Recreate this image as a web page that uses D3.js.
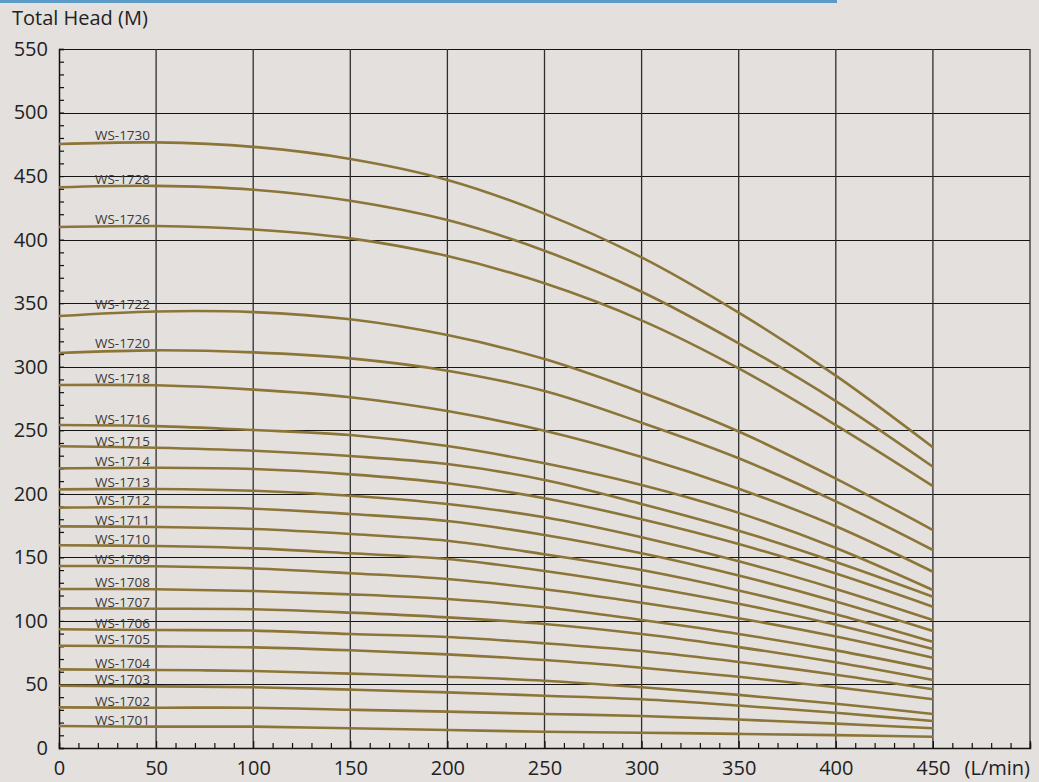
<!DOCTYPE html>
<html>
<head>
<meta charset="utf-8">
<script src="https://cdn.jsdelivr.net/npm/d3@7"></script>
<style>
  html, body { margin: 0; padding: 0; background: #e4e0dd; }
  svg { display: block; }
  text { font-family: "Open Sans", "DejaVu Sans", sans-serif; }
</style>
</head>
<body>
<svg id="chart" width="1039" height="782"></svg>
<script>
// ---- Data ----
const flows = [0, 50, 100, 150, 200, 250, 300, 350, 400, 450];   // L/min
const xTickLabels = [0, 50, 100, 150, 200, 250, 300, 350, 400, 450];
const yTickLabels = [0, 50, 100, 150, 200, 250, 300, 350, 400, 450, 500, 550];
const models = ["WS-1730","WS-1728","WS-1726","WS-1722","WS-1720","WS-1718","WS-1716","WS-1715",
                "WS-1714","WS-1713","WS-1712","WS-1711","WS-1710","WS-1709","WS-1708","WS-1707",
                "WS-1706","WS-1705","WS-1704","WS-1703","WS-1702","WS-1701"];
const ws1730 = [475.2, 476.5, 473.0, 463.5, 447.0, 420.5, 386.0, 342.5, 293.0, 236.6];
const ws1728 = [441.2, 442.3, 439.3, 430.6, 415.4, 391.3, 359.0, 318.4, 273.0, 221.3];
const ws1726 = [409.9, 410.7, 408.0, 401.0, 387.1, 365.6, 336.5, 298.7, 254.1, 206.1];
const ws1722 = [339.9, 343.5, 343.0, 337.3, 324.9, 306.0, 279.7, 249.0, 212.0, 171.5];
const ws1720 = [310.8, 312.9, 311.3, 306.6, 296.9, 280.9, 256.0, 228.0, 194.0, 155.8];
const ws1718 = [285.6, 285.4, 282.0, 276.0, 265.1, 249.6, 229.0, 204.0, 174.5, 138.7];
const ws1716 = [254.1, 253.3, 250.2, 246.3, 237.6, 224.0, 206.9, 185.0, 157.4, 124.3];
const ws1715 = [237.4, 236.3, 233.9, 229.7, 223.4, 210.9, 192.0, 171.0, 146.3, 119.0];
const ws1714 = [220.0, 220.5, 219.5, 215.3, 208.3, 196.5, 180.0, 160.5, 137.3, 111.2];
const ws1713 = [203.5, 203.8, 202.4, 198.5, 192.0, 181.5, 165.8, 147.0, 125.2, 100.7];
const ws1712 = [189.1, 189.6, 188.3, 184.1, 178.6, 167.6, 153.2, 135.7, 115.3, 92.1];
const ws1711 = [174.4, 173.9, 172.3, 168.4, 163.1, 152.4, 140.0, 124.0, 105.2, 83.6];
const ws1710 = [159.5, 158.9, 157.1, 153.2, 148.7, 139.3, 127.5, 113.5, 97.0, 77.9];
const ws1709 = [143.2, 143.0, 141.3, 137.5, 133.0, 124.9, 114.3, 102.1, 87.7, 71.0];
const ws1708 = [125.1, 124.9, 123.5, 120.9, 117.2, 110.7, 100.7, 89.7, 76.8, 61.9];
const ws1707 = [109.9, 109.6, 109.2, 106.5, 102.8, 97.6, 89.7, 79.4, 67.4, 53.5];
const ws1706 = [93.4, 92.8, 92.4, 89.7, 87.3, 82.4, 76.3, 67.7, 57.7, 46.2];
const ws1705 = [80.5, 80.0, 79.2, 76.9, 73.7, 69.2, 63.2, 56.1, 47.8, 38.3];
const ws1704 = [61.9, 61.4, 60.6, 58.5, 56.1, 52.9, 47.8, 41.8, 34.8, 26.8];
const ws1703 = [49.0, 48.5, 47.8, 45.9, 43.8, 41.1, 38.3, 33.4, 27.7, 21.2];
const ws1702 = [32.0, 31.7, 31.7, 30.1, 28.6, 26.8, 25.2, 22.4, 19.2, 15.5];
const ws1701 = [17.3, 16.8, 16.8, 15.5, 14.2, 12.8, 12.0, 11.1, 10.1, 8.9];
const heads = [ws1730, ws1728, ws1726, ws1722, ws1720, ws1718, ws1716, ws1715, ws1714, ws1713,
               ws1712, ws1711, ws1710, ws1709, ws1708, ws1707, ws1706, ws1705, ws1704, ws1703,
               ws1702, ws1701];
const yTitle = "Total Head (M)";
const xUnit = "(L/min)";

// ---- Chart ----
const svg = d3.select("#chart");
const W = 1039, H = 782;
svg.append("rect").attr("width", W).attr("height", H).attr("fill", "#e4e0dd");
svg.append("rect").attr("x", 0).attr("y", 0).attr("width", 837).attr("height", 3).attr("fill", "#5b9bc5");

const x = d3.scaleLinear().domain([0, 500]).range([59, 1030]);
const y = d3.scaleLinear().domain([0, 550]).range([748, 49]);

// grid
const g = svg.append("g");
g.selectAll("line.h").data(yTickLabels.filter(d => d > 0)).join("line")
  .attr("x1", x(0)).attr("x2", x(500))
  .attr("y1", d => Math.round(y(d)) + 0.5).attr("y2", d => Math.round(y(d)) + 0.5)
  .attr("stroke", "#141414").attr("stroke-width", 1);
g.selectAll("line.v").data(xTickLabels.filter(d => d > 0).concat([500])).join("line")
  .attr("x1", d => x(d)).attr("x2", d => x(d))
  .attr("y1", y(0)).attr("y2", y(550))
  .attr("stroke", "#2e2e2e").attr("stroke-width", 1.3);

// minor ticks (inside)
svg.append("g").attr("transform", `translate(${x(0)},0)`)
  .call(d3.axisRight(y).tickValues(d3.range(0, 551, 10)).tickSize(5).tickFormat(""))
  .call(s => s.select(".domain").attr("stroke", "#111").attr("stroke-width", 1.5))
  .call(s => s.selectAll(".tick line").attr("stroke", "#111").attr("stroke-width", 1.2));
svg.append("g").attr("transform", `translate(0,${y(0)})`)
  .call(d3.axisTop(x).tickValues(d3.range(0, 501, 10)).tickSize(5).tickFormat(""))
  .call(s => s.select(".domain").attr("stroke", "#111").attr("stroke-width", 1.5))
  .call(s => s.selectAll(".tick line").attr("stroke", "#111").attr("stroke-width", 1.2)
     .attr("y2", d => d % 50 === 0 ? -7 : -5));

// tick labels
svg.append("g").attr("transform", `translate(${x(0)},0)`)
  .call(d3.axisLeft(y).tickValues(yTickLabels).tickSize(0).tickPadding(11))
  .call(s => s.select(".domain").remove())
  .call(s => s.selectAll("text").attr("font-size", 20).attr("fill", "#222")
     .attr("font-family", "'Open Sans', sans-serif"));
svg.append("g").attr("transform", `translate(0,${y(0)})`)
  .call(d3.axisBottom(x).tickValues(xTickLabels).tickSize(0).tickPadding(13))
  .call(s => s.select(".domain").remove())
  .call(s => s.selectAll("text").attr("font-size", 20).attr("fill", "#222")
     .attr("font-family", "'Open Sans', sans-serif"));

svg.append("text").attr("x", x(500)).attr("y", 775).attr("text-anchor", "end")
  .attr("font-size", 20).attr("fill", "#222").text(xUnit);
svg.append("text").attr("x", 12).attr("y", 25)
  .attr("font-size", 20).attr("fill", "#222").text(yTitle);

// curves
const line = d3.line().x((d, i) => x(flows[i])).y(d => y(d)).curve(d3.curveCatmullRom.alpha(0.5));
svg.append("g").selectAll("path").data(heads).join("path")
  .attr("d", d => line(d))
  .attr("fill", "none").attr("stroke", "#8c7538").attr("stroke-width", 2.6);

// labels
svg.append("g").selectAll("text").data(models).join("text")
  .attr("x", x(18.5))
  .attr("y", (d, i) => y(heads[i][1]) - 2)
  .attr("font-size", 13.5).attr("fill", "#3a3a3a")
  .text(d => d);
</script>
</body>
</html>
